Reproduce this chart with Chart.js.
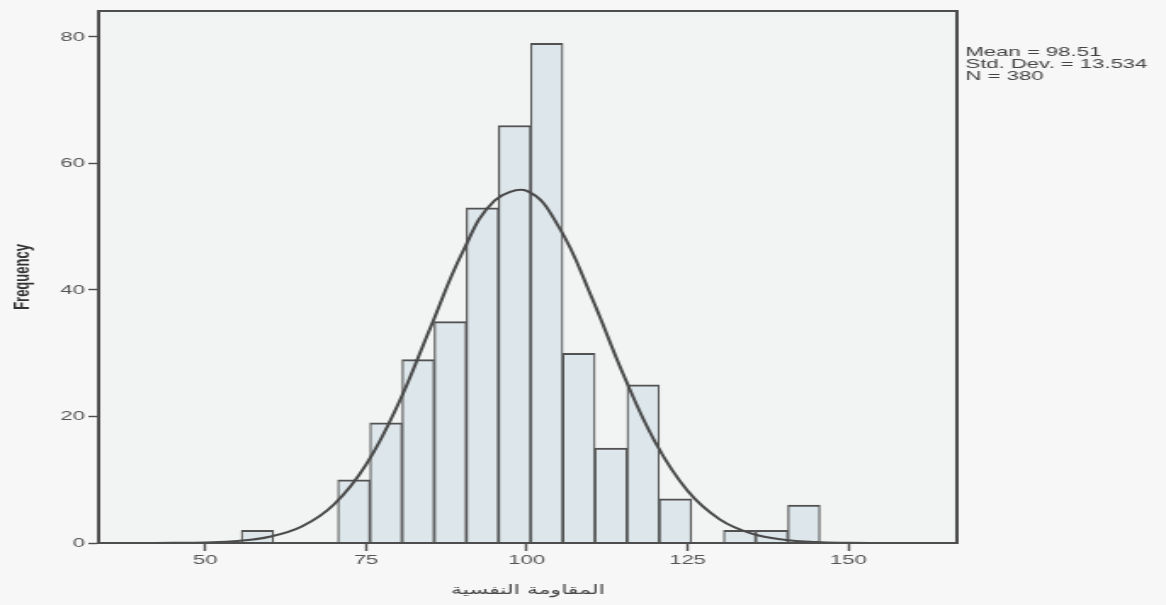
<!DOCTYPE html>
<html>
<head>
<meta charset="utf-8">
<script src="https://cdn.jsdelivr.net/npm/chart.js@4"></script>
<style>
  body { margin: 0; background: #f7f7f7; }
</style>
</head>
<body>
<!-- the scan is stretched sideways, so the canvas is drawn narrow and widened by css -->
<canvas id="hist" width="686" height="605" style="display:block;width:1166px;height:605px"></canvas>
<script>
// histogram bins (lower edge) and their frequencies
const binStart = [55.6, 70.6, 75.6, 80.6, 85.6, 90.6, 95.6, 100.6, 105.6, 110.6, 115.6, 120.6, 130.6, 135.6, 140.6];
const counts = [2, 10, 19, 29, 35, 53, 66, 79, 30, 15, 25, 7, 2, 2, 6];
const binWidth = 5;

// normal curve
const curveX = [35, 40, 45, 50, 55, 60, 65, 70, 75, 80, 85, 90, 95, 100, 105, 110, 115, 120, 125, 130, 135, 140, 145, 150, 155, 160, 165];
const curveY = [0, 0.01, 0.02, 0.09, 0.32, 0.98, 2.61, 6.09, 12.39, 21.98, 34.03, 45.95, 54.15, 55.66, 49.92, 39.05, 26.66, 15.88, 8.25, 3.74, 1.48, 0.51, 0.15, 0.04, 0.01, 0, 0];

const xTicks = [50, 75, 100, 125, 150];
const yTicks = [0, 20, 40, 60, 80];
const statsLines = ['Mean = 98.51', 'Std. Dev. = 13.534', 'N = 380'];

const axisColor = '#4d4d4d';

const barData = binStart.map((s, i) => ({ x: s + binWidth / 2, y: counts[i] }));
const curveData = curveX.map((x, i) => ({ x: x, y: curveY[i] }));

// background, frame round the plot and the stats box
const framePlugin = {
  id: 'frame',
  beforeDraw(chart) {
    const { ctx, chartArea: a } = chart;
    ctx.save();
    ctx.fillStyle = '#f7f7f7';
    ctx.fillRect(0, 0, chart.width, chart.height);
    ctx.fillStyle = '#f2f3f3';
    ctx.fillRect(a.left, a.top, a.right - a.left, a.bottom - a.top);
    ctx.restore();
  },
  afterDraw(chart) {
    const { ctx, chartArea: a } = chart;
    ctx.save();
    ctx.strokeStyle = axisColor;
    ctx.lineWidth = 2;
    ctx.strokeRect(a.left, a.top, a.right - a.left, a.bottom - a.top);
    ctx.fillStyle = '#444';
    ctx.font = '13px "Liberation Sans", Arial, sans-serif';
    ctx.textBaseline = 'alphabetic';
    statsLines.forEach((t, i) => ctx.fillText(t, a.right + 5, 56 + i * 12));
    ctx.restore();
  }
};

const tickFont = { family: '"Liberation Sans", Arial, sans-serif', size: 13 };

new Chart(document.getElementById('hist'), {
  type: 'bar',
  data: {
    datasets: [
      {
        type: 'line',
        data: curveData,
        borderColor: '#4a4a4a',
        borderWidth: 2,
        pointRadius: 0,
        tension: 0.4,
        fill: false,
        order: 1
      },
      {
        type: 'bar',
        data: barData,
        backgroundColor: '#dde6ea',
        borderColor: '#525252',
        borderWidth: { top: 2, left: 1.2, right: 1.2, bottom: 0 },
        barPercentage: 1,
        categoryPercentage: 1,
        order: 2
      }
    ]
  },
  options: {
    responsive: false,
    devicePixelRatio: 1,
    animation: false,
    layout: { padding: { top: 11, right: 123, left: 0, bottom: 0 } },
    plugins: {
      legend: { display: false },
      tooltip: { enabled: false }
    },
    scales: {
      x: {
        type: 'linear',
        min: 33.4,
        max: 166.9,
        offset: false,
        afterBuildTicks: s => { s.ticks = xTicks.map(v => ({ value: v })); },
        afterFit: s => { s.height = 62; },
        ticks: { font: tickFont, color: '#555', padding: 2, maxRotation: 0, autoSkip: false },
        grid: { drawOnChartArea: false, offset: false, tickLength: 8, tickColor: axisColor, tickWidth: 1.4 },
        border: { color: axisColor, width: 2 },
        title: {
          display: true,
          text: 'المقاومة النفسية',
          font: { family: '"DejaVu Sans", sans-serif', size: 13 },
          color: '#444',
          padding: { top: 0, bottom: 7 }
        }
      },
      y: {
        type: 'linear',
        min: 0,
        max: 84.1,
        afterBuildTicks: s => { s.ticks = yTicks.map(v => ({ value: v })); },
        afterFit: s => { s.width = 58; },
        ticks: { font: tickFont, color: '#555', padding: 2 },
        grid: { drawOnChartArea: false, tickLength: 6, tickColor: axisColor, tickWidth: 1.4 },
        border: { color: axisColor, width: 2 },
        title: {
          display: true,
          text: 'Frequency',
          font: { family: '"Liberation Sans", Arial, sans-serif', size: 13, weight: 'bold' },
          color: '#333',
          padding: { top: 6, bottom: 0 }
        }
      }
    }
  },
  plugins: [framePlugin]
});
</script>
</body>
</html>
